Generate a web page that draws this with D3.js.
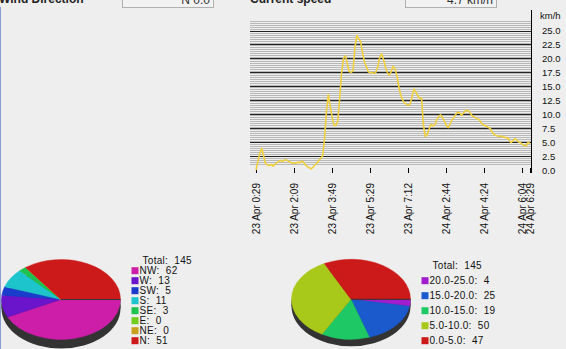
<!DOCTYPE html>
<html>
<head>
<meta charset="utf-8">
<script src="https://cdn.jsdelivr.net/npm/d3@7"></script>
<style>
  body { margin: 0; background: #eeeeee; }
  svg { display: block; font-family: "Liberation Sans", Arial, sans-serif; }
  text { white-space: pre; }
</style>
</head>
<body>
<div id="viz"></div>
<script>
// speed samples, km/h (one every few minutes, 145 samples)
const speed = [
  0.0, 1.5, 3.0, 3.9, 2.5, 1.2, 0.9, 0.8, 1.0, 0.7,
  1.0, 1.3, 1.6, 1.7, 1.5, 1.8, 1.8, 1.6, 1.4, 1.2,
  1.3, 1.2, 1.4, 1.3, 1.6, 1.4, 0.9, 0.6, 0.4, 0.2,
  0.5, 0.9, 1.2, 1.7, 2.1, 2.5, 5.5, 10.5, 13.5, 11.5,
  9.5, 8.0, 8.0, 8.8, 13.0, 17.5, 20.0, 20.5, 19.0, 17.6,
  17.5, 17.8, 22.0, 24.1, 23.5, 23.0, 21.0, 19.4, 18.5, 17.6,
  17.4, 17.5, 17.3, 17.5, 18.5, 20.2, 20.8, 19.8, 18.5, 17.5,
  17.0, 17.6, 18.6, 18.2, 17.0, 15.0, 13.5, 12.6, 12.0, 11.8,
  11.6, 11.8, 13.2, 14.5, 14.0, 13.3, 12.8, 12.9, 8.0, 6.0,
  6.3, 7.4, 8.2, 7.9, 8.1, 9.0, 9.6, 9.9, 9.4, 8.8,
  8.0, 7.6, 8.2, 9.0, 9.4, 10.0, 10.4, 10.2, 9.8, 10.2,
  10.6, 10.7, 10.5, 10.0, 9.6, 9.5, 9.2, 9.1, 8.7, 8.2,
  8.0, 7.9, 7.6, 7.5, 6.9, 6.4, 6.2, 6.1, 6.0, 6.1,
  5.9, 5.8, 5.8, 5.4, 4.9, 5.2, 5.6, 5.4, 5.0, 4.9,
  4.6, 4.4, 4.3, 5.0, 4.7
];
const time_ticks = [0, 20, 40, 60, 80, 100, 120, 140, 144];
const time_labels = ["23 Apr 0:29", "23 Apr 2:09", "23 Apr 3:49", "23 Apr 5:29", "23 Apr 7:12",
                     "24 Apr 2:44", "24 Apr 4:24", "24 Apr 6:04", "24 Apr 6:29"];
const speed_ticks = [0, 2.5, 5, 7.5, 10, 12.5, 15, 17.5, 20, 22.5, 25];

const dir_names = ["NW", "W", "SW", "S", "SE", "E", "NE", "N"];
const dir_counts = [62, 13, 5, 11, 3, 0, 0, 51];
const dir_colors = ["#cc1ea8", "#6a14cc", "#1a3ccc", "#1ec4cc", "#1ec250", "#72cc1e", "#c8a01e", "#cc1a1a"];

const range_names = ["20.0-25.0", "15.0-20.0", "10.0-15.0", "5.0-10.0", "0.0-5.0"];
const range_counts = [4, 25, 19, 50, 47];
const range_colors = ["#a01ccc", "#1a5acc", "#1ec864", "#a8c81a", "#cc1a1a"];

const W = 566, H = 349;

const svg = d3.select("#viz").append("svg")
  .attr("width", W)
  .attr("height", H);

svg.append("rect").attr("width", W).attr("height", H).attr("fill", "#eeeeee");

// panel border on the left
svg.append("line")
  .attr("x1", 0.5).attr("x2", 0.5).attr("y1", 7).attr("y2", H)
  .attr("stroke", "#8a9bd0").attr("stroke-width", 1);

// header texts and value boxes
function header(x, title, boxX, value) {
  svg.append("text")
    .attr("x", x).attr("y", 3)
    .attr("font-size", 12).attr("font-weight", "bold").attr("fill", "#222")
    .text(title);
  svg.append("rect")
    .attr("x", boxX + 0.5).attr("y", -10.5)
    .attr("width", 91).attr("height", 18)
    .attr("fill", "#f2f2f2").attr("stroke", "#b0b0b0");
  svg.append("text")
    .attr("x", boxX + 88).attr("y", 3.5)
    .attr("text-anchor", "end")
    .attr("font-size", 12).attr("fill", "#333")
    .text(value);
}
header(-1, "Wind Direction", 122, "N 0.0");
header(250, "Current speed", 405, "4.7 km/h");

// ---- line chart ----
const x = d3.scaleLinear().domain([0, 144]).range([256, 530]);
const y = d3.scaleLinear().domain([0, 25]).range([170, 30.5]);

const grid = svg.append("g").attr("shape-rendering", "crispEdges");
const minor = d3.range(1, 26.8, 2.5 / 7);
grid.selectAll(".minor")
  .data(minor)
  .enter().append("line")
  .attr("x1", 250).attr("x2", 531)
  .attr("y1", d => Math.round(y(d)) + 0.5)
  .attr("y2", d => Math.round(y(d)) + 0.5)
  .attr("stroke", "#b8b8b8");
grid.selectAll(".major")
  .data(speed_ticks.filter(d => d > 0))
  .enter().append("line")
  .attr("x1", 250).attr("x2", 531)
  .attr("y1", d => Math.round(y(d)) + 0.5)
  .attr("y2", d => Math.round(y(d)) + 0.5)
  .attr("stroke", "#222");

// vertical axis on the right
svg.append("line")
  .attr("x1", 531.5).attr("x2", 531.5).attr("y1", 10).attr("y2", 173)
  .attr("stroke", "#000").attr("shape-rendering", "crispEdges");

svg.append("text")
  .attr("x", 540).attr("y", 19)
  .attr("font-size", 9.5).attr("fill", "#111")
  .text("km/h");

svg.selectAll(".ylab")
  .data(speed_ticks)
  .enter().append("text")
  .attr("x", 542)
  .attr("y", d => y(d) + 3.5)
  .attr("font-size", 9.5).attr("fill", "#111")
  .text(d => d.toFixed(1));

// time ticks and labels
svg.selectAll(".xtick")
  .data(time_ticks)
  .enter().append("line")
  .attr("x1", d => Math.round(x(d)) + 0.5)
  .attr("x2", d => Math.round(x(d)) + 0.5)
  .attr("y1", 168).attr("y2", 173)
  .attr("stroke", "#000").attr("shape-rendering", "crispEdges");

svg.selectAll(".xlab")
  .data(time_ticks)
  .enter().append("text")
  .attr("transform", d => `translate(${x(d) + 3.5},183) rotate(-90)`)
  .attr("text-anchor", "end")
  .attr("font-size", 10).attr("fill", "#111")
  .text((d, i) => time_labels[i]);

const line = d3.line()
  .x((d, i) => x(i))
  .y(d => y(d));

svg.append("path")
  .datum(speed)
  .attr("d", line)
  .attr("fill", "none")
  .attr("stroke", "#f0d03c")
  .attr("stroke-width", 1.6)
  .attr("stroke-linejoin", "round");

// ---- 3d pies ----
function pie3d(cx, cy, rx, ry, depth, counts, colors) {
  const g = svg.append("g");
  g.append("ellipse")
    .attr("cx", cx).attr("cy", cy + depth).attr("rx", rx).attr("ry", ry)
    .attr("fill", "#333");
  g.append("rect")
    .attr("x", cx - rx).attr("y", cy).attr("width", rx * 2).attr("height", depth)
    .attr("fill", "#333");

  const arcs = d3.pie().sort(null)
    .startAngle(Math.PI / 2).endAngle(Math.PI / 2 + 2 * Math.PI)(counts);
  const arc = d3.arc().innerRadius(0).outerRadius(rx);
  const top = g.append("g")
    .attr("transform", `translate(${cx},${cy}) scale(1,${ry / rx})`);
  top.selectAll("path")
    .data(arcs)
    .enter().append("path")
    .attr("d", arc)
    .attr("fill", (d, i) => colors[i])
    .attr("stroke", (d, i) => colors[i])
    .attr("stroke-width", 0.5);
  g.append("line")
    .attr("x1", cx).attr("x2", cx + rx).attr("y1", cy).attr("y2", cy)
    .attr("stroke", "#333").attr("stroke-width", 1);
}

function legend(x0, totalY, rowY, step, names, counts, colors) {
  const g = svg.append("g").attr("font-size", 10).attr("fill", "#111");
  g.append("text")
    .attr("x", x0 + 11).attr("y", totalY + 3.5)
    .attr("letter-spacing", 0.3)
    .text("Total:  " + d3.sum(counts));
  const rows = g.selectAll(".row")
    .data(names)
    .enter().append("g")
    .attr("transform", (d, i) => `translate(${x0},${rowY + i * step})`);
  rows.append("rect")
    .attr("x", 0).attr("y", -3.5).attr("width", 7).attr("height", 7)
    .attr("fill", (d, i) => colors[i]);
  rows.append("text")
    .attr("x", 8).attr("y", 3.5)
    .attr("letter-spacing", 0.3)
    .text((d, i) => d + ":  " + counts[i]);
}

pie3d(61, 299.5, 59.5, 40, 9, dir_counts, dir_colors);
legend(131.5, 260.7, 270.7, 10, dir_names, dir_counts, dir_colors);

pie3d(351, 299.3, 59.5, 40, 7, range_counts, range_colors);
legend(421.5, 265.7, 280.7, 15, range_names, range_counts, range_colors);
</script>
</body>
</html>
